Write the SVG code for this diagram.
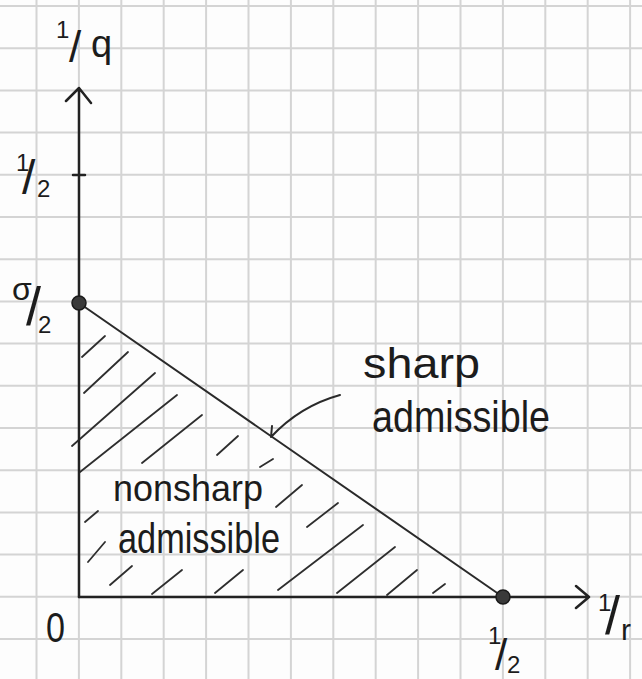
<svg xmlns="http://www.w3.org/2000/svg" width="642" height="679" viewBox="0 0 642 679">
  <style>
    .grid { stroke: #d4d4d4; stroke-width: 2; fill: none; }
    .ax { stroke: #222; stroke-width: 2.5; fill: none; stroke-linecap: round; stroke-linejoin: round; }
    .ln { stroke: #2a2a2a; stroke-width: 2; fill: none; stroke-linecap: round; }
    .hatch { stroke: #2e2e2e; stroke-width: 1.8; fill: none; stroke-linecap: round; }
    .t { font-family: "Liberation Sans", "DejaVu Sans", sans-serif; fill: #1c1c1c; }
    .dot { fill: #3a3a3a; stroke: #1a1a1a; stroke-width: 1.5; }
  </style>
  <rect width="642" height="679" fill="#fdfdfd"/>
  <g id="grid">
    <path class="grid" d="M36.5,0V679 M78.9,0V679 M121.3,0V679 M163.7,0V679 M206.1,0V679 M248.5,0V679 M290.9,0V679 M333.3,0V679 M375.7,0V679 M418.1,0V679 M460.5,0V679 M502.9,0V679 M545.3,0V679 M587.7,0V679 M630.1,0V679"/>
    <path class="grid" d="M0,6H642 M0,48.2H642 M0,90.4H642 M0,132.6H642 M0,174.8H642 M0,217H642 M0,259.2H642 M0,301.4H642 M0,343.6H642 M0,385.8H642 M0,428H642 M0,470.2H642 M0,512.4H642 M0,554.6H642 M0,596.8H642 M0,639H642"/>
  </g>
  <g id="region">
    <g id="hatching">
      <path class="hatch" d="M82,357L105,336 M84,393L128,352 M72,446L155,373 M80,472L177,395 M142,463L202,415 M217,455L238,436 M260,467L273,459 M85,522L98,511 M88,562L105,542 M110,585L132,566 M152,594L182,570 M215,593L243,570 M276,507L302,485 M307,527L338,503 M278,590L363,525 M337,593L395,547 M387,595L417,570 M433,593L445,584"/>
    </g>
    <path id="boundary" class="ln" d="M79,303L503,597"/>
  </g>
  <g id="axes">
    <path id="y-axis" class="ax" d="M79,597V88 M66,101L79,88L91,103 M73,175H85"/>
    <path id="x-axis" class="ax" d="M79,597H589 M576,586L589,597L576,608"/>
  </g>
  <g id="point-sigma">
    <circle class="dot" cx="79" cy="303" r="7"/>
  </g>
  <g id="point-half">
    <circle class="dot" cx="503" cy="597" r="7"/>
  </g>
  <g id="label-y">
    <text class="t"><tspan x="56" y="38" font-size="24">1</tspan><tspan x="69" y="62" font-size="44">/</tspan><tspan x="91" y="57" font-size="38">q</tspan></text>
  </g>
  <g id="label-y-half">
    <text class="t"><tspan x="16" y="171" font-size="24">1</tspan><tspan x="22" y="194" font-size="48">/</tspan><tspan x="37" y="197" font-size="24">2</tspan></text>
  </g>
  <g id="label-sigma">
    <text class="t"><tspan x="12" y="300" font-size="32">σ</tspan><tspan x="26" y="325" font-size="54">/</tspan><tspan x="38" y="333" font-size="24">2</tspan></text>
  </g>
  <g id="label-zero">
    <text class="t" x="46" y="642" font-size="42" textLength="19" lengthAdjust="spacingAndGlyphs">0</text>
  </g>
  <g id="label-x-half">
    <text class="t"><tspan x="488" y="644" font-size="24">1</tspan><tspan x="495" y="670" font-size="44">/</tspan><tspan x="507" y="673" font-size="24">2</tspan></text>
  </g>
  <g id="label-x">
    <text class="t"><tspan x="598" y="611" font-size="24">1</tspan><tspan x="605" y="634" font-size="54">/</tspan><tspan x="621" y="640" font-size="30">r</tspan></text>
  </g>
  <g id="label-sharp">
    <text class="t" x="363" y="378" font-size="42" textLength="117" lengthAdjust="spacingAndGlyphs">sharp</text>
    <text class="t" x="372" y="432" font-size="44" textLength="178" lengthAdjust="spacingAndGlyphs">admissible</text>
  </g>
  <g id="label-nonsharp">
    <text class="t" x="113" y="501" font-size="37" textLength="150" lengthAdjust="spacingAndGlyphs">nonsharp</text>
    <text class="t" x="118" y="553" font-size="42" textLength="162" lengthAdjust="spacingAndGlyphs">admissible</text>
  </g>
  <g id="connectors">
    <path class="ln" d="M340,395Q300,406 271,437 M271,437L272,426"/>
  </g>
</svg>
